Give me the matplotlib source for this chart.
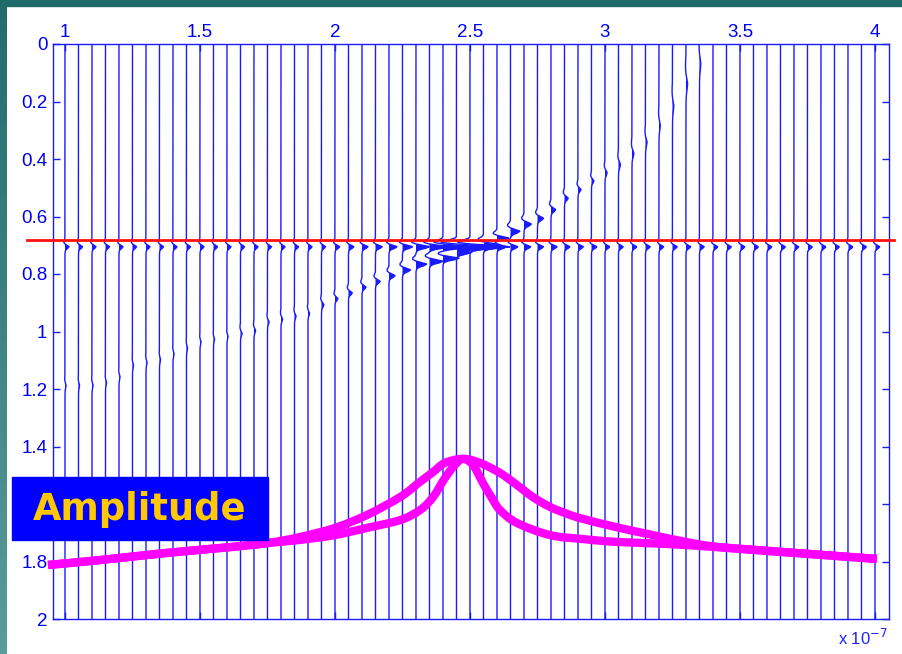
import numpy as np
import matplotlib.pyplot as plt
from matplotlib.patches import Rectangle, PathPatch
from matplotlib.path import Path
from matplotlib.colors import LinearSegmentedColormap

plt.rcParams['font.family'] = ['Liberation Sans', 'DejaVu Sans']

BLUE = '#1a1aff'

# trace positions (x 1e-7), one every 0.05
trace_x = np.round(np.arange(1.0, 4.0001, 0.05), 2)
spacing = 0.05

# flat event under the red line, amplitude in trace spacings
flat_time = 0.70
flat_amp = [0.3] * 20 + [0.35, 0.4, 0.45, 0.5, 0.6, 0.75, 1.0, 1.4, 2.2, 3.8,
                         1.8, 1.0, 0.7, 0.55, 0.5, 0.45, 0.45, 0.4, 0.4, 0.4] + [0.35] * 21

# dipping event: arrival time, amplitude and stretch per trace
dip_time = [1.18, 1.18, 1.18, 1.17, 1.15, 1.11, 1.10, 1.09, 1.07, 1.05,
            1.03, 1.02, 1.01, 1.00, 0.99, 0.96, 0.95, 0.94, 0.93, 0.90,
            0.88, 0.86, 0.84, 0.82, 0.80, 0.78, 0.76, 0.75, 0.74, 0.72,
            0.70, 0.69, 0.67, 0.645, 0.62, 0.60, 0.57, 0.53, 0.50, 0.47,
            0.44, 0.41, 0.37, 0.33, 0.27, 0.20, 0.12, 0.05] + [-0.2] * 13
dip_amp = [0.08] * 13 + [0.12] * 6 + [0.18, 0.22, 0.28, 0.3, 0.35, 0.45, 0.6, 0.8, 1.0, 1.2,
                                      1.0, 1.2, 1.0, 0.9, 0.7, 0.55, 0.45, 0.35, 0.28, 0.22,
                                      0.18, 0.16, 0.15, 0.14, 0.12, 0.1, 0.1, 0.12, 0.1] + [0.0] * 13
dip_stretch = [1.5] * 10 + [1.3] * 10 + [1.1] * 8 + [1.0] * 5 + [1.2] * 7 + \
              [1.5, 1.8, 2.0, 2.2, 2.6, 3.0, 3.5, 3.5] + [1.0] * 13

# wavelet samples
wavelet_t = np.linspace(-0.03, 0.03, 13)
wavelet_v = [0, -0.03, -0.12, -0.3, -0.3, -0.05, 0.5, 1.0, 0.75, 0.3, 0.08, 0.02, 0]

# red horizon
horizon_time = 0.682
horizon_x = [0.86, 4.07]

# magenta amplitude curves
wide_x = [0.937, 1.130, 1.378, 1.611, 1.748, 1.870, 2.000, 2.119, 2.241, 2.315, 2.363,
          2.407, 2.474, 2.537, 2.611, 2.674, 2.733, 2.796, 2.859, 2.919, 3.044, 3.167,
          3.289, 3.415, 3.659, 4.007]
wide_y = [1.812, 1.795, 1.770, 1.750, 1.736, 1.715, 1.683, 1.638, 1.576, 1.523, 1.489,
          1.457, 1.443, 1.457, 1.492, 1.534, 1.576, 1.610, 1.634, 1.652, 1.681, 1.706,
          1.730, 1.749, 1.767, 1.791]
narrow_x = [0.937, 1.130, 1.378, 1.611, 1.748, 1.870, 2.000, 2.119, 2.241, 2.315, 2.363,
            2.407, 2.444, 2.474, 2.511, 2.548, 2.581, 2.611, 2.674, 2.796, 2.919, 3.044,
            3.230, 3.415, 3.659, 4.007]
narrow_y = [1.812, 1.795, 1.770, 1.750, 1.736, 1.725, 1.708, 1.683, 1.656, 1.621, 1.576,
            1.510, 1.464, 1.443, 1.464, 1.527, 1.579, 1.621, 1.666, 1.708, 1.722, 1.732,
            1.739, 1.750, 1.767, 1.791]

yticks = [0, 0.2, 0.4, 0.6, 0.8, 1, 1.2, 1.4, 1.6, 1.8, 2]
ylabels = ['0', '0.2', '0.4', '0.6', '0.8', '1', '1.2', '1.4', '', '1.8', '2']
xticks = [1, 1.5, 2, 2.5, 3, 3.5, 4]
xlabels = ['1', '1.5', '2', '2.5', '3', '3.5', '4']


def smooth_path(xs, ys):
    # catmull-rom through the points, drawn as bezier segments
    p = np.column_stack([xs, ys])
    p = np.vstack([p[0], p, p[-1]])
    verts = [p[1]]
    codes = [Path.MOVETO]
    for i in range(1, len(p) - 2):
        c1 = p[i] + (p[i + 1] - p[i - 1]) / 6
        c2 = p[i + 1] - (p[i + 2] - p[i]) / 6
        verts += [c1, c2, p[i + 1]]
        codes += [Path.CURVE4] * 3
    return Path(verts, codes)


fig = plt.figure(figsize=(9.02, 6.54), dpi=100, facecolor='white')

# slide frame
bg = fig.add_axes([0, 0, 7 / 902, 1])
bg.imshow(np.linspace(0, 1, 100).reshape(-1, 1), aspect='auto', extent=[0, 1, 0, 1],
          cmap=LinearSegmentedColormap.from_list('t', ['#5a9c98', '#236c6c']), origin='lower')
bg.axis('off')
fig.patches.append(Rectangle((0, 1 - 6 / 654), 1, 6 / 654, transform=fig.transFigure,
                             color='#216a6a', zorder=0))

ax = fig.add_axes([53 / 902, 1 - 619 / 654, 836 / 902, 575 / 654])
t = np.linspace(0, 2, 2000)
for i, x0 in enumerate(trace_x):
    d = flat_amp[i] * np.interp(t - flat_time, wavelet_t, wavelet_v, left=0, right=0)
    d += dip_amp[i] * np.interp((t - dip_time[i]) / dip_stretch[i], wavelet_t, wavelet_v, left=0, right=0)
    xs = x0 + spacing * d
    ax.plot(xs, t, color=BLUE, lw=1.0)
    ax.fill_betweenx(t, x0, xs, where=d > 0.02, color=BLUE, lw=0)

ax.plot(horizon_x, [horizon_time, horizon_time], color='#ff1010', lw=2, clip_on=False, zorder=5)

for cx, cy in [(wide_x, wide_y), (narrow_x, narrow_y)]:
    ax.add_patch(PathPatch(smooth_path(cx, cy), fill=False, edgecolor='#ff00ff', lw=6,
                           capstyle='butt', joinstyle='round', clip_on=False, zorder=6))

ax.set_xlim(0.9556, 4.0519)
ax.set_ylim(2, 0)
ax.set_xticks(xticks)
ax.set_xticklabels(xlabels)
ax.set_yticks(yticks)
ax.set_yticklabels(ylabels)
ax.xaxis.tick_top()
ax.tick_params(axis='both', direction='in', length=5, width=1, color=BLUE,
               labelcolor='#0000f0', labelsize=13.5, pad=4)
ax.tick_params(axis='x', top=True, bottom=True, pad=2)
ax.tick_params(axis='y', left=True, right=True)
for s in ax.spines.values():
    s.set_color(BLUE)
    s.set_linewidth(1)

# overlay label
fig.patches.append(Rectangle((12 / 902, 1 - 540 / 654), 256 / 902, 63 / 654,
                             transform=fig.transFigure, color='#0000ff', zorder=10))
fig.text(140 / 902, 1 - 510 / 654, 'Amplitude', color='#ffc800', fontsize=26.5,
         fontweight='bold', family='DejaVu Sans', ha='center', va='center', zorder=11)

fig.text(838 / 902, 1 - 638 / 654, r'x 10$^{-7}$', color='#2020ff', fontsize=12,
         ha='left', va='center')

fig.savefig('out.png', dpi=100)
